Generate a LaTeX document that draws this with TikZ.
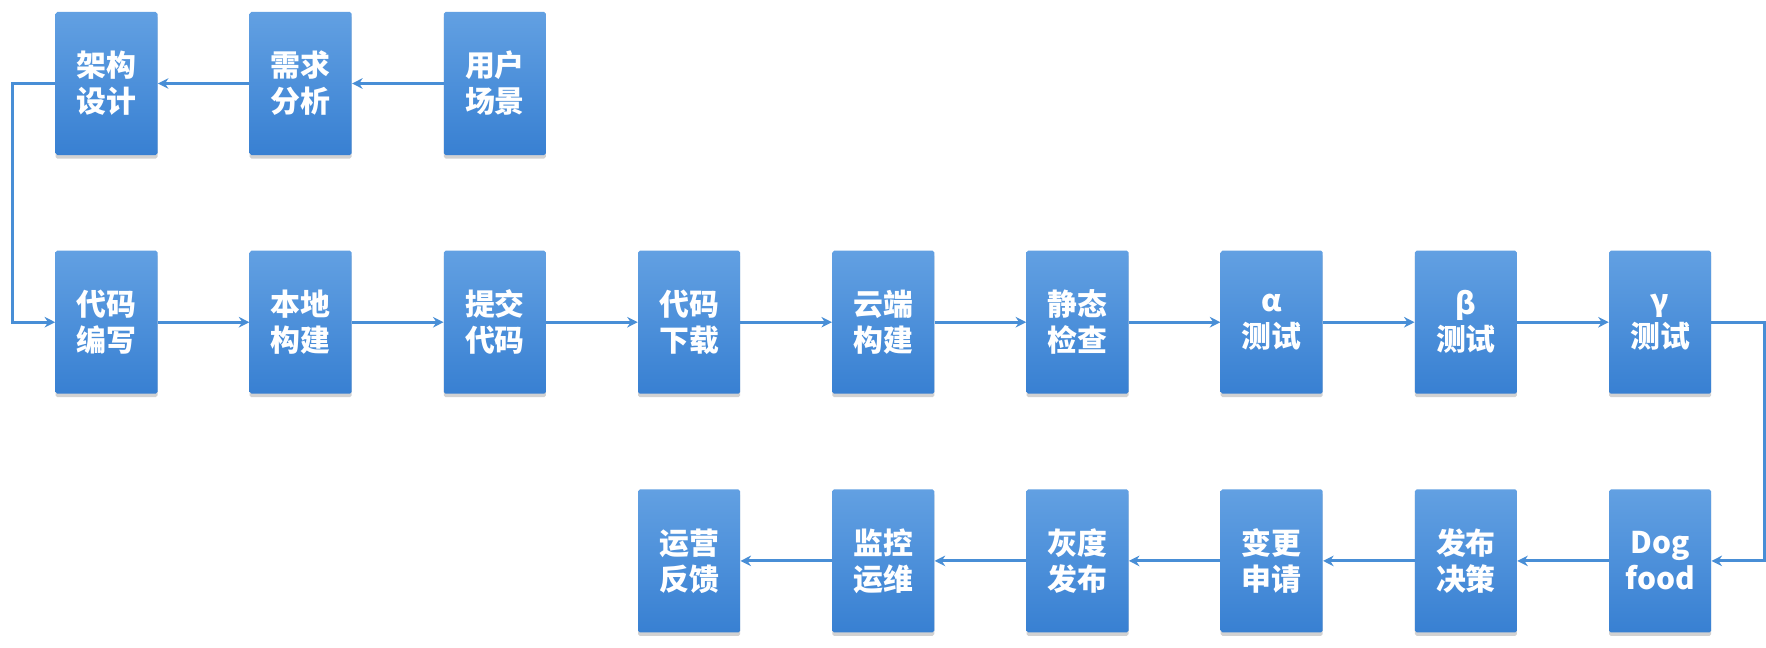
\documentclass[tikz,border=0pt]{standalone}
\usepackage{fontspec}
\setmainfont{Noto Sans CJK SC}
\usepackage{xcolor}
\usepackage{tikz}
\usetikzlibrary{positioning, arrows.meta, shadows}

\definecolor{boxtop}{RGB}{98,160,226}
\definecolor{boxbot}{RGB}{56,128,210}
\definecolor{flowline}{RGB}{72,142,214}

\tikzset{
  stage/.style={rectangle, rounded corners=1pt, minimum width=2.04cm, minimum height=2.86cm,
    inner sep=0pt, top color=boxtop, bottom color=boxbot, text=white,
    font=\bfseries\fontsize{17}{20.5}\selectfont, align=center,
    drop shadow={shadow xshift=0pt, shadow yshift=-2pt, opacity=0.35}},
  flow/.style={draw=flowline, line width=1.7pt, -{Stealth[length=6pt,width=6pt]}}
}

\begin{document}
\begin{tikzpicture}[node distance=1.9cm and 1.83cm]
  % Canvas
  \fill[white] (0,0) rectangle (35.32,-12.96);
  \useasboundingbox (0,0) rectangle (35.32,-12.96);

  % Top row
  \node[stage] (arch) at (2.13,-1.67) {架构\\设计};
  \node[stage, right=of arch] (req) {需求\\分析};
  \node[stage, right=of req] (scene) {用户\\场景};

  % Middle row
  \node[stage, below=of arch] (code) {代码\\编写};
  \node[stage, right=of code] (build) {本地\\构建};
  \node[stage, right=of build] (commit) {提交\\代码};
  \node[stage, right=of commit] (fetch) {代码\\下载};
  \node[stage, right=of fetch] (cloud) {云端\\构建};
  \node[stage, right=of cloud] (lint) {静态\\检查};
  \node[stage, right=of lint] (alpha) {α\\测试};
  \node[stage, right=of alpha] (beta) {β\\测试};
  \node[stage, right=of beta] (gamma) {γ\\测试};

  % Bottom row
  \node[stage, below=of gamma] (dogfood) {Dog\\food};
  \node[stage, left=of dogfood] (decide) {发布\\决策};
  \node[stage, left=of decide] (change) {变更\\申请};
  \node[stage, left=of change] (gray) {灰度\\发布};
  \node[stage, left=of gray] (ops) {监控\\运维};
  \node[stage, left=of ops] (feedback) {运营\\反馈};

  % Turn points
  \coordinate (leftrail) at ([xshift=-0.86cm]arch.west);
  \coordinate (rightrail) at ([xshift=1.06cm]gamma.east);

  % Connectors
  \draw[flow] (scene) -- (req);
  \draw[flow] (req) -- (arch);
  \draw[flow] (arch.west) -- (leftrail) |- (code.west);
  \draw[flow] (code) -- (build);
  \draw[flow] (build) -- (commit);
  \draw[flow] (commit) -- (fetch);
  \draw[flow] (fetch) -- (cloud);
  \draw[flow] (cloud) -- (lint);
  \draw[flow] (lint) -- (alpha);
  \draw[flow] (alpha) -- (beta);
  \draw[flow] (beta) -- (gamma);
  \draw[flow] (gamma.east) -- (rightrail) |- (dogfood.east);
  \draw[flow] (dogfood) -- (decide);
  \draw[flow] (decide) -- (change);
  \draw[flow] (change) -- (gray);
  \draw[flow] (gray) -- (ops);
  \draw[flow] (ops) -- (feedback);
\end{tikzpicture}
\end{document}
